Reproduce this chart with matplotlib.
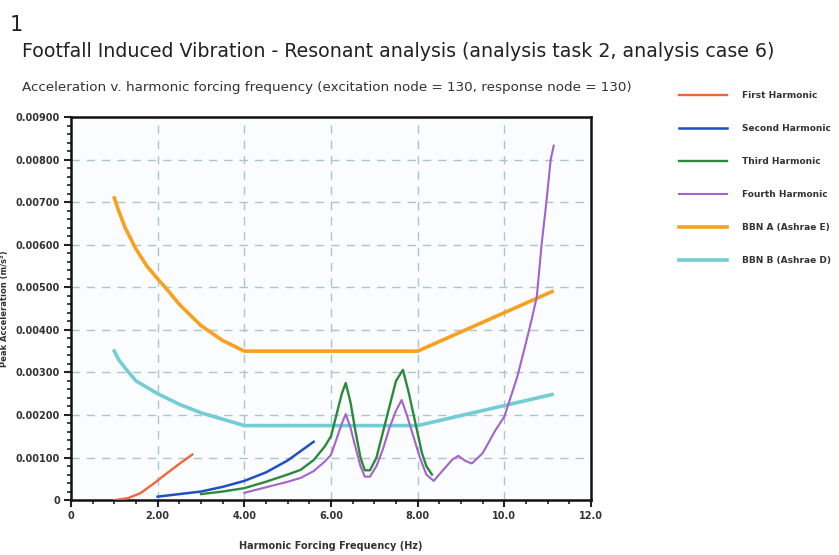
import numpy as np
import matplotlib
matplotlib.use("Agg")
import matplotlib.pyplot as plt
from matplotlib.ticker import MultipleLocator

# data
f1_x = [1.0, 1.3, 1.6, 1.9, 2.2, 2.5, 2.8]
f1_y = [0.0, 0.00004, 0.00016, 0.00038, 0.00062, 0.00085, 0.00107]

f2_x = [2.0, 2.5, 3.0, 3.5, 4.0, 4.5, 5.0, 5.3, 5.6]
f2_y = [0.00008, 0.00014, 0.0002, 0.00031, 0.00045, 0.00065, 0.00093, 0.00115, 0.00137]

f3_x = [3.0, 3.5, 4.0, 4.5, 5.0, 5.3, 5.6, 5.85, 6.0, 6.15, 6.25, 6.34, 6.45, 6.55,
        6.68, 6.78, 6.9, 7.05, 7.2, 7.35, 7.5, 7.66, 7.8, 7.95, 8.1, 8.2, 8.33]
f3_y = [0.00014, 0.0002, 0.00028, 0.00043, 0.0006, 0.00071, 0.00094, 0.00125, 0.0015,
        0.0021, 0.0025, 0.00275, 0.0023, 0.0017, 0.001, 0.0007, 0.0007, 0.001, 0.0016,
        0.0022, 0.0028, 0.00306, 0.0025, 0.0018, 0.0011, 0.0008, 0.0006]

f4_x = [4.0, 4.5, 5.0, 5.3, 5.6, 5.85, 6.0, 6.15, 6.25, 6.34, 6.45, 6.55, 6.68, 6.78,
        6.9, 7.05, 7.2, 7.35, 7.5, 7.63, 7.75, 7.9, 8.05, 8.2, 8.37, 8.6, 8.8, 8.94,
        9.1, 9.25, 9.5, 9.8, 10.0, 10.3, 10.5, 10.63, 10.75, 10.86, 10.97, 11.07, 11.14]
f4_y = [0.00017, 0.0003, 0.00043, 0.00052, 0.00068, 0.0009, 0.00106, 0.0015, 0.0018,
        0.00202, 0.0017, 0.0013, 0.0008, 0.00055, 0.00055, 0.0008, 0.0012, 0.0017,
        0.0021, 0.00235, 0.002, 0.0015, 0.001, 0.0006, 0.00045, 0.00072, 0.00095,
        0.00104, 0.00092, 0.00086, 0.0011, 0.00165, 0.00196, 0.0029, 0.0037, 0.00424,
        0.00478, 0.006, 0.007, 0.008, 0.00833]

bbna_x = [1.0, 1.1, 1.25, 1.5, 1.75, 2.0, 2.2, 2.5, 3.0, 3.5, 4.0, 8.0, 11.1]
bbna_y = [0.0071, 0.0068, 0.0064, 0.0059, 0.0055, 0.0052, 0.00497, 0.0046, 0.0041, 0.00375,
          0.0035, 0.0035, 0.0049]

bbnb_x = [1.0, 1.1, 1.25, 1.5, 1.75, 2.0, 2.5, 3.0, 3.5, 4.0, 8.0, 11.1]
bbnb_y = [0.0035, 0.0033, 0.0031, 0.0028, 0.00265, 0.0025, 0.00225, 0.00205, 0.0019,
          0.00175, 0.00175, 0.00248]

x_ticks = [0, 2, 4, 6, 8, 10, 12]
x_labels = ["0", "2.00", "4.00", "6.00", "8.00", "10.0", "12.0"]
y_ticks = [0, 0.001, 0.002, 0.003, 0.004, 0.005, 0.006, 0.007, 0.008, 0.009]
y_labels = ["0", "0.00100", "0.00200", "0.00300", "0.00400", "0.00500",
            "0.00600", "0.00700", "0.00800", "0.00900"]

fig = plt.figure(figsize=(8.39, 5.55), dpi=100)
ax = fig.add_axes([0.0846, 0.099, 0.6198, 0.690])
ax.set_facecolor("#fbfcfd")

grid_c = "#a9c6cf"
for gx in x_ticks[1:-1]:
    ax.axvline(gx, color=grid_c, lw=1.0, ls=(0, (6, 5)), zorder=1)
for gy in y_ticks[1:-1]:
    ax.axhline(gy, color=grid_c, lw=1.0, ls=(0, (6, 5)), zorder=1)

ax.plot(f1_x, f1_y, color="#f0663c", lw=1.7, label="First Harmonic", zorder=3)
ax.plot(f2_x, f2_y, color="#1f4fc4", lw=1.8, label="Second Harmonic", zorder=3)
ax.plot(f3_x, f3_y, color="#2a8a3a", lw=1.7, label="Third Harmonic", zorder=3)
ax.plot(f4_x, f4_y, color="#a263cc", lw=1.5, label="Fourth Harmonic", zorder=3)
ax.plot(bbna_x, bbna_y, color="#f7a11f", lw=2.6, label="BBN A (Ashrae E)", zorder=2)
ax.plot(bbnb_x, bbnb_y, color="#73cdd4", lw=2.6, label="BBN B (Ashrae D)", zorder=2)

ax.set_xlim(0, 12)
ax.set_ylim(0, 0.009)
ax.set_xticks(x_ticks)
ax.set_xticklabels(x_labels)
ax.set_yticks(y_ticks)
ax.set_yticklabels(y_labels)
ax.xaxis.set_minor_locator(MultipleLocator(0.5))
ax.yaxis.set_minor_locator(MultipleLocator(0.0002))
ax.tick_params(which="major", length=5, width=1.5, color="#222222",
               labelsize=7, pad=3, labelcolor="#333333")
ax.tick_params(which="minor", length=3, width=1.2, color="#222222")
for lab in ax.get_xticklabels() + ax.get_yticklabels():
    lab.set_fontweight("bold")
for s in ax.spines.values():
    s.set_linewidth(1.8)
    s.set_color("#111111")

ax.set_xlabel("Harmonic Forcing Frequency (Hz)", fontsize=7, fontweight="bold",
              color="#333333", labelpad=14)
ax.set_ylabel("Peak Acceleration (m/s²)", fontsize=6, fontweight="bold",
              color="#333333")
ax.yaxis.set_label_coords(-0.12, 0.5)

fig.text(0.012, 0.955, "1", fontsize=15, color="#222222", va="center")
fig.text(0.026, 0.907, "Footfall Induced Vibration - Resonant analysis (analysis task 2, analysis case 6)",
         fontsize=13.7, color="#222222", va="center")
fig.text(0.026, 0.843, "Acceleration v. harmonic forcing frequency (excitation node = 130, response node = 130)",
         fontsize=9.7, color="#333333", va="center")

leg = ax.legend(loc="upper left", bbox_to_anchor=(0.8, 0.85),
                bbox_transform=fig.transFigure, frameon=False, fontsize=6.5,
                handlelength=5.3, handletextpad=1.6, labelspacing=2.65)
for t in leg.get_texts():
    t.set_fontweight("bold")
    t.set_color("#333333")

fig.savefig("out.png", dpi=100)
